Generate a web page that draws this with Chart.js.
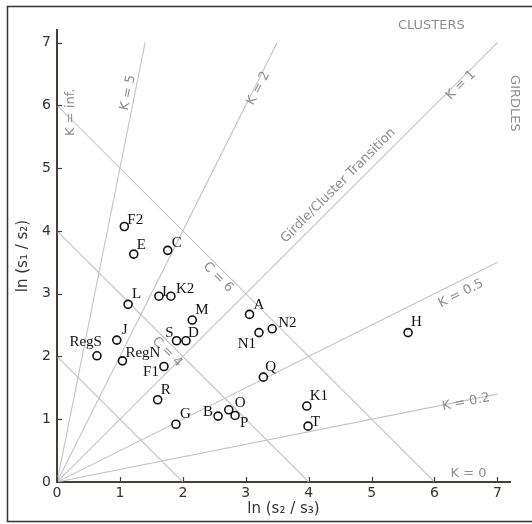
<!DOCTYPE html>
<html>
<head>
<meta charset="utf-8">
<script src="https://cdn.jsdelivr.net/npm/chart.js@4/dist/chart.umd.min.js"></script>
<style>
  html, body { margin: 0; padding: 0; background: #fff; }
  #wrap { width: 532px; height: 524px; position: relative; }
</style>
</head>
<body>
<div id="wrap"><canvas id="c" width="532" height="524"></canvas></div>
<script>
// ---- data ----
const sampleNames = ["F2","E","C","L","I","K2","M","A","J","RegS","RegN","S","D","N1","N2","F1","Q","H","R","K1","G","B","O","P","T"];
const lnS2S3 = [1.07,1.22,1.76,1.13,1.62,1.81,2.15,3.06,0.95,0.635,1.04,1.90,2.05,3.21,3.42,1.70,3.28,5.58,1.60,3.97,1.89,2.56,2.73,2.83,3.99];
const lnS1S2 = [4.07,3.63,3.69,2.83,2.96,2.96,2.58,2.67,2.26,2.01,1.93,2.25,2.25,2.38,2.44,1.84,1.67,2.38,1.31,1.21,0.92,1.05,1.15,1.06,0.89];
const kValues = [5, 2, 1, 0.5, 0.2];
const cValues = [2, 4, 6];
const xTicks = [0,1,2,3,4,5,6,7];
const yTicks = [0,1,2,3,4,5,6,7];
const axisMax = 7;

// ---- styles / label placement ----
const labelPlace = {
  F2:[3,-6,'left'], E:[3,-9,'left'], C:[4,-7,'left'], L:[4,-10,'left'], I:[3,-4,'left'],
  K2:[5,-7,'left'], M:[3,-10,'left'], A:[4,-9,'left'], J:[5,-10,'left'], RegS:[5,-14,'right'],
  RegN:[3,-8,'left'], S:[-3,-8,'right'], D:[2,-8,'left'], N1:[-3,11,'right'], N2:[6,-6,'left'],
  F1:[-5,6,'right'], Q:[2,-10,'left'], H:[3,-11,'left'], R:[3,-10,'left'], K1:[3,-10,'left'],
  G:[4,-10,'left'], B:[-5,-4,'right'], O:[6,-7,'left'], P:[5,8,'left'], T:[3,-4,'left']
};
const guideTexts = [
  {t:"CLUSTERS", x:5.95, y:7.27, r:0},
  {t:"GIRDLES", x:7.275, y:6.03, r:90},
  {t:"K = inf.", x:0.22, y:5.89, r:-90},
  {t:"K = 5", x:1.13, y:6.2, r:-78.6},
  {t:"K = 2", x:3.2, y:6.27, r:-63.4},
  {t:"K = 1", x:6.42, y:6.32, r:-45},
  {t:"Girdle/Cluster Transition", x:4.47, y:4.72, r:-45},
  {t:"K = 0.5", x:6.42, y:3.0, r:-26.5},
  {t:"K = 0.2", x:6.5, y:1.27, r:-11.3},
  {t:"K = 0", x:6.54, y:0.14, r:0},
  {t:"C = 6", x:2.56, y:3.26, r:45},
  {t:"C = 4", x:1.75, y:2.07, r:45}
];
const guideColor = '#c4c4c4';
const guideTextColor = '#8e8e8e';
const axisColor = '#463e37';

// ---- build datasets ----
const datasets = [];
datasets.push({
  label: 'samples',
  data: lnS2S3.map((x, i) => ({x: x, y: lnS1S2[i]})),
  pointStyle: 'circle', pointRadius: 4, pointHoverRadius: 4,
  borderColor: '#111', backgroundColor: '#fff', pointBorderWidth: 1.6,
  showLine: false, order: 0
});
kValues.forEach(k => {
  const xe = Math.min(axisMax, axisMax / k);
  datasets.push({
    label: 'K=' + k, data: [{x:0,y:0},{x:xe,y:k*xe}],
    showLine: true, pointRadius: 0, borderColor: guideColor, borderWidth: 1.1, order: 1
  });
});
cValues.forEach(c => {
  datasets.push({
    label: 'C=' + c, data: [{x:0,y:c},{x:c,y:0}],
    showLine: true, pointRadius: 0, borderColor: guideColor, borderWidth: 1.1, order: 1
  });
});

const decorPlugin = {
  id: 'decor',
  beforeDraw(chart) {
    const ctx = chart.ctx;
    ctx.save();
    ctx.fillStyle = '#fff';
    ctx.fillRect(0, 0, chart.width, chart.height);
    ctx.strokeStyle = '#333';
    ctx.lineWidth = 1.5;
    ctx.beginPath();
    ctx.moveTo(532, 6.5); ctx.lineTo(7.5, 6.5); ctx.lineTo(7.5, 521.5); ctx.lineTo(532, 521.5);
    ctx.stroke();
    ctx.restore();
  },
  afterDatasetsDraw(chart) {
    const ctx = chart.ctx;
    const xs = chart.scales.x, ys = chart.scales.y;
    ctx.save();
    // guide labels
    ctx.fillStyle = guideTextColor;
    ctx.font = '13px "DejaVu Sans"';
    ctx.textAlign = 'center';
    ctx.textBaseline = 'middle';
    guideTexts.forEach(g => {
      ctx.save();
      ctx.translate(xs.getPixelForValue(g.x), ys.getPixelForValue(g.y));
      ctx.rotate(g.r * Math.PI / 180);
      ctx.fillText(g.t, 0, 0);
      ctx.restore();
    });
    // inward tick marks
    ctx.strokeStyle = axisColor;
    ctx.lineWidth = 1.2;
    const b = ys.getPixelForValue(0), l = xs.getPixelForValue(0);
    xTicks.forEach(v => {
      const p = Math.round(xs.getPixelForValue(v)) + 0.5;
      ctx.beginPath(); ctx.moveTo(p, b); ctx.lineTo(p, b - 5); ctx.stroke();
    });
    yTicks.forEach(v => {
      const p = Math.round(ys.getPixelForValue(v)) + 0.5;
      ctx.beginPath(); ctx.moveTo(l, p); ctx.lineTo(l + 5, p); ctx.stroke();
    });
    // sample labels
    const meta = chart.getDatasetMeta(0);
    ctx.fillStyle = '#111';
    ctx.font = '15px "Liberation Serif"';
    ctx.textBaseline = 'middle';
    meta.data.forEach((pt, i) => {
      const name = sampleNames[i];
      const pl = labelPlace[name] || [4,-8,'left'];
      ctx.textAlign = pl[2];
      ctx.fillText(name, pt.x + pl[0], pt.y + pl[1]);
    });
    ctx.restore();
  }
};

new Chart(document.getElementById('c'), {
  type: 'scatter',
  data: { datasets },
  options: {
    responsive: false,
    animation: false,
    devicePixelRatio: 1,
    layout: { padding: { top: 30, right: 22, left: 0, bottom: 0 } },
    plugins: { legend: { display: false }, tooltip: { enabled: false } },
    scales: {
      x: {
        type: 'linear', min: 0, max: 7.2,
        afterBuildTicks: s => { s.ticks = xTicks.map(v => ({value: v})); },
        afterFit: s => { s.height = 42; },
        grid: { display: false, drawTicks: false },
        border: { display: true, color: axisColor, width: 2 },
        ticks: { color: '#333', font: { family: 'DejaVu Sans', size: 14 }, padding: 3, maxRotation: 0, autoSkip: false },
        title: { display: true, text: 'ln (s\u2082 / s\u2083)', color: '#333', font: { family: 'DejaVu Sans', size: 15 }, padding: { top: 0, bottom: 6 } }
      },
      y: {
        type: 'linear', min: 0, max: 7.2,
        afterBuildTicks: s => { s.ticks = yTicks.map(v => ({value: v})); },
        afterFit: s => { s.width = 57; },
        grid: { display: false, drawTicks: false },
        border: { display: true, color: axisColor, width: 2 },
        ticks: { color: '#333', font: { family: 'DejaVu Sans', size: 14 }, padding: 6, autoSkip: false },
        title: { display: true, text: 'ln (s\u2081 / s\u2082)', color: '#333', font: { family: 'DejaVu Sans', size: 15 }, padding: { top: 14, bottom: 0 } }
      }
    }
  },
  plugins: [decorPlugin]
});
</script>
</body>
</html>
